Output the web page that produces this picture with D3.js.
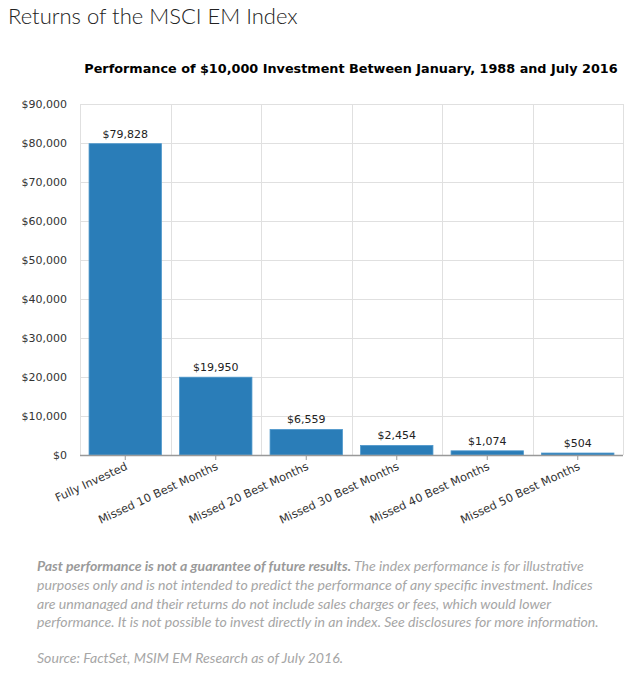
<!DOCTYPE html>
<html><head><meta charset="utf-8">
<script src="https://cdn.jsdelivr.net/npm/d3@7"></script>
<style>body{margin:0;background:#fff}</style>
</head><body>
<svg id="c" width="640" height="674"></svg>
<script>
const categories = ["Fully Invested","Missed 10 Best Months","Missed 20 Best Months","Missed 30 Best Months","Missed 40 Best Months","Missed 50 Best Months"];
const values = [79828, 19950, 6559, 2454, 1074, 504];
const yTicks = [0,10000,20000,30000,40000,50000,60000,70000,80000,90000];
const title = "Returns of the MSCI EM Index";
const subtitle = "Performance of $10,000 Investment Between January, 1988 and July 2016";
const footBold = "Past performance is not a guarantee of future results.";
const footLines = [
  " The index performance is for illustrative",
  "purposes only and is not intended to predict the performance of any specific investment. Indices",
  "are unmanaged and their returns do not include sales charges or fees, which would lower",
  "performance. It is not possible to invest directly in an index. See disclosures for more information."
];
const source = "Source: FactSet, MSIM EM Research as of July 2016.";

const svg = d3.select("#c");
const m = {left:80, right:623, top:104, bottom:455};
const x = d3.scaleBand().domain(categories).range([m.left, m.right]).paddingInner(0.2).paddingOuter(0.1);
const y = d3.scaleLinear().domain([0,90000]).range([m.bottom, m.top]);
const fmt = d3.format("$,");

svg.append("text").attr("x",8).attr("y",24).attr("font-family","Lato").attr("font-weight",300)
  .attr("font-size",22).attr("fill","#222").text(title);
svg.append("text").attr("x",351).attr("y",73).attr("text-anchor","middle").attr("font-family","DejaVu Sans")
  .attr("font-weight","bold").attr("font-size",12.8).attr("fill","#000").text(subtitle);

// horizontal grid
svg.append("g").selectAll("line").data(yTicks).join("line")
  .attr("x1",m.left).attr("x2",m.right).attr("y1",d=>y(d)+0.5).attr("y2",d=>y(d)+0.5)
  .attr("stroke","#e0e0e0");
// vertical grid (band boundaries)
const step = x.step();
const bounds = d3.range(categories.length+1).map(i => m.left + i*step);
svg.append("g").selectAll("line").data(bounds).join("line")
  .attr("x1",d=>Math.round(d)+0.5).attr("x2",d=>Math.round(d)+0.5).attr("y1",m.top).attr("y2",m.bottom)
  .attr("stroke","#e0e0e0");

// y axis labels
svg.append("g").selectAll("text").data(yTicks).join("text")
  .attr("x",67).attr("y",d=>y(d)+4).attr("text-anchor","end")
  .attr("font-family","DejaVu Sans").attr("font-size",11).attr("fill","#333").text(d=>fmt(d));

// bars
svg.append("g").selectAll("rect").data(values).join("rect")
  .attr("x",(d,i)=>x(categories[i])).attr("width",x.bandwidth())
  .attr("y",d=>y(d)).attr("height",d=>y(0)-y(d))
  .attr("fill","#2a7db8").attr("stroke","#4f98cc").attr("stroke-width",0.8);

// value labels
svg.append("g").selectAll("text").data(values).join("text")
  .attr("x",(d,i)=>x(categories[i])+x.bandwidth()/2).attr("y",d=>y(d)-6).attr("text-anchor","middle")
  .attr("font-family","DejaVu Sans").attr("font-size",11).attr("fill","#222").text(d=>fmt(d));

// x axis
svg.append("line").attr("x1",m.left).attr("x2",m.right).attr("y1",m.bottom+0.5).attr("y2",m.bottom+0.5)
  .attr("stroke","#999").attr("stroke-width",1.5);
const xa = svg.append("g").selectAll("g").data(categories).join("g")
  .attr("transform",d=>`translate(${x(d)+x.bandwidth()/2},${m.bottom})`);
xa.append("line").attr("y1",0).attr("y2",5).attr("stroke","#999");
xa.append("text").attr("transform","translate(3,14) rotate(-25)").attr("text-anchor","end")
  .attr("font-family","DejaVu Sans").attr("font-size",11.3).attr("fill","#333").text(d=>d);

// footer
const ft = svg.append("g").attr("font-family","Lato").attr("font-style","italic").attr("font-size",14.1).attr("fill","#a6a6a6");
const t0 = ft.append("text").attr("x",37).attr("y",571);
t0.append("tspan").attr("font-weight","bold").attr("fill","#9a9a9a").text(footBold);
t0.append("tspan").text(footLines[0]);
footLines.slice(1).forEach((l,i)=>ft.append("text").attr("x",37).attr("y",590+i*18.7).text(l));
ft.append("text").attr("x",37).attr("y",663).text(source);
</script>
</body></html>
